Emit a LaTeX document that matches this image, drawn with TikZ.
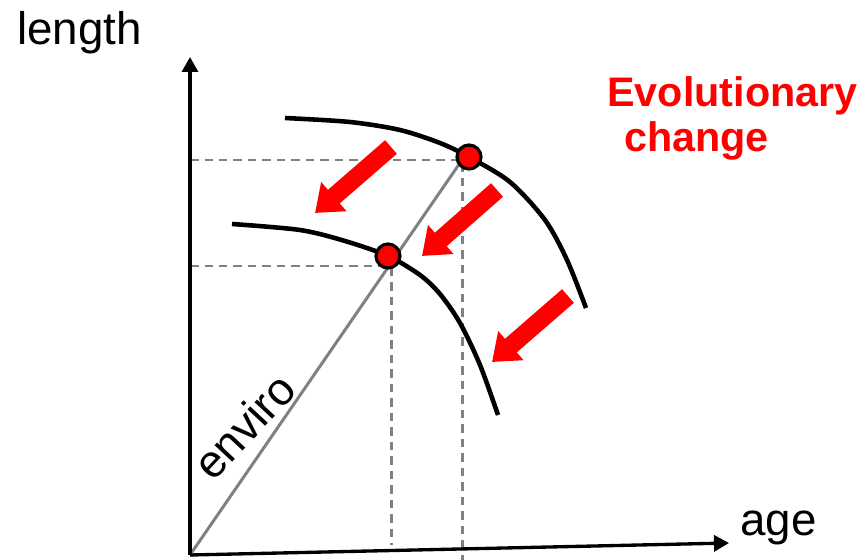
\documentclass[tikz,border=0pt]{standalone}
\usepackage{fontspec}
\setmainfont{Liberation Sans}
\usetikzlibrary{arrows.meta}
\definecolor{evored}{HTML}{FF0000}
\definecolor{refgray}{HTML}{808080}

\begin{document}
\begin{tikzpicture}[
  x=0.02cm,y=-0.02cm,
  axis/.style={line width=1.9pt,-{Triangle[length=0.3cm,width=0.32cm]}},
  growth/.style={line width=2.6pt},
  envline/.style={draw=refgray,line width=1.7pt},
  guide/.style={draw=refgray,line width=1.7pt,dash pattern=on 0.17cm off 0.12cm},
  dot/.style={circle,draw,line width=1.8pt,fill=evored,minimum size=0.48cm,inner sep=0pt},
  evoarrow/.style={draw=evored,line width=0.36cm,-{Triangle[length=0.5cm,width=0.74cm]}},
  txt/.style={font=\fontsize{26}{30}\selectfont,inner sep=0pt},
  evotxt/.style={font=\fontsize{23.5}{28}\selectfont\bfseries,text=evored,inner sep=0pt}
]
\useasboundingbox (0,0) rectangle (868,560);
\coordinate (o) at (190,555);
\coordinate (ytop) at (190,57);
\coordinate (xend) at (729,543);
\coordinate (oldc) at (462,160);
\coordinate (newc) at (391,266);
\coordinate (oldfoot) at (462,560);
\coordinate (newfoot) at (391,545);
\draw[guide] (oldc -| o) -- (oldc) -- (oldfoot);
\draw[guide] (newc -| o) -- (newc) -- (newfoot);
\draw[envline] (o) -- (oldc);
\draw[axis] (o) -- (ytop);
\draw[axis] (o) -- (xend);
% reaction norms, before and after
\draw[growth] plot[smooth] coordinates {(285,118) (350,122) (400,130) (440,143) (469,157) (510,182) (545,220) (567,260) (586,308)};
\draw[growth] plot[smooth] coordinates {(232,224) (300,230) (345,241) (388,256) (420,275) (440,294) (460,323) (480,365) (498,415)};
\node[dot] (old) at (469,157) {};
\node[dot] (new) at (388,256) {};
\draw[evoarrow] (391,147) -- ++(-76,66);
\draw[evoarrow] (497,190) -- ++(-75,66);
\draw[evoarrow] (568,296) -- ++(-76,66);
\node[txt,anchor=base west] (ylab) at (17,45) {length};
\node[txt,anchor=base west] (xlab) at (740,535) {age};
\node[txt,rotate=47] (env) at (244,426) {enviro};
\node[evotxt,anchor=base west] (evo1) at (607,107) {Evolutionary};
\node[evotxt,anchor=base west] (evo2) at (624,152) {change};
\end{tikzpicture}
\end{document}
